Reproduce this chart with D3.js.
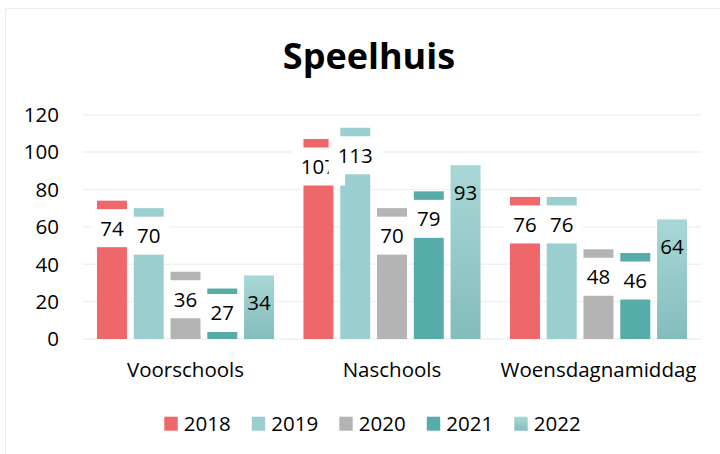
<!DOCTYPE html>
<html>
<head>
<meta charset="utf-8">
<script src="https://cdn.jsdelivr.net/npm/d3@7"></script>
<style>
	body { margin: 0; background: #fff; }
	text { font-family: "Open Sans", "Noto Sans", sans-serif; fill: #000; }
</style>
</head>
<body>
<svg id="chart" width="720" height="454"></svg>
<script>
"use strict"

//
// data
//
var categories = ["Voorschools", "Naschools", "Woensdagnamiddag"];
var series = ["2018", "2019", "2020", "2021", "2022"];
var values2018 = [74, 107, 76];
var values2019 = [70, 113, 76];
var values2020 = [36, 70, 48];
var values2021 = [27, 79, 46];
var values2022 = [34, 93, 64];
var yTicks = [0, 20, 40, 60, 80, 100, 120];
var colors = ["#ee676b", "#9bcfcf", "#b4b4b4", "#55aca9", "url(#grad2022)"];

var seriesValues = [values2018, values2019, values2020, values2021, values2022];

var svg = d3.select("#chart");

// gradient for 2022
var defs = svg.append("defs");
var grad = defs.append("linearGradient").attr("id", "grad2022")
	.attr("x1", 0).attr("y1", 0).attr("x2", 0).attr("y2", 1);
grad.append("stop").attr("offset", "0%").attr("stop-color", "#a8d8d6");
grad.append("stop").attr("offset", "100%").attr("stop-color", "#84bcbc");

// frame
svg.append("rect")
	.attr("x", 5.5).attr("y", 8.5)
	.attr("width", 800).attr("height", 800)
	.attr("fill", "#fff")
	.attr("stroke", "#e8efee")
	.attr("stroke-width", 1.2);

// title
svg.append("text")
	.attr("x", 369).attr("y", 56.4)
	.attr("dy", "0.35em")
	.attr("text-anchor", "middle")
	.style("font-size", "36px")
	.style("font-weight", "bold")
	.text("Speelhuis");

//
// scales
//
var left = 82.25, right = 701.75;
var yBottom = 339, yTop = 114.7;

var x0 = d3.scaleBand().domain(categories).range([left, right]).padding(0);
var x1 = d3.scaleBand().domain(series).range([0, x0.bandwidth()])
	.paddingInner(0.185).paddingOuter(0.4);
var y = d3.scaleLinear().domain([0, 120]).range([yBottom, yTop]);

// gridlines
svg.append("g").selectAll("line").data(yTicks).enter().append("line")
	.attr("x1", left).attr("x2", right)
	.attr("y1", function(d) { return y(d); })
	.attr("y2", function(d) { return y(d); })
	.attr("stroke", "#edf3f2")
	.attr("stroke-width", 1.5);

// y tick labels
svg.append("g").selectAll("text").data(yTicks).enter().append("text")
	.attr("x", 59)
	.attr("y", function(d) { return y(d); })
	.attr("dy", "0.36em")
	.attr("text-anchor", "end")
	.style("font-size", "20.5px")
	.text(function(d) { return d; });

// category labels
svg.append("g").selectAll("text").data(categories).enter().append("text")
	.attr("x", function(d) { return x0(d) + x0.bandwidth() / 2; })
	.attr("y", 370)
	.attr("dy", "0.36em")
	.attr("text-anchor", "middle")
	.style("font-size", "20.5px")
	.text(function(d) { return d; });

//
// bars
//
var gBars = svg.append("g");
series.forEach(function(s, si) {
	gBars.append("g").selectAll("rect").data(seriesValues[si]).enter().append("rect")
		.attr("x", function(d, i) { return x0(categories[i]) + x1(s); })
		.attr("y", function(d) { return y(d); })
		.attr("width", x1.bandwidth())
		.attr("height", function(d) { return y(0) - y(d); })
		.attr("fill", colors[si]);
});

//
// data labels (white boxes except 2022)
//
var gLabels = svg.append("g");
series.forEach(function(s, si) {
	seriesValues[si].forEach(function(v, i) {
		var cx = x0(categories[i]) + x1(s) + x1.bandwidth() / 2;
		var cy = Math.min(y(v) + 27.5, y(0) - 26);
		var g = gLabels.append("g");
		var rect = g.append("rect");
		var t = g.append("text")
			.attr("x", cx).attr("y", cy)
			.attr("dy", "0.36em")
			.attr("text-anchor", "middle")
			.style("font-size", "20.5px")
			.text(v);
		if (si < 4) {
			var tw = t.node().getComputedTextLength();
			rect.attr("x", cx - tw / 2 - 9)
				.attr("y", cy - 19)
				.attr("width", tw + 18)
				.attr("height", 38)
				.attr("fill", "#fff");
		} else {
			rect.remove();
		}
	});
});

//
// legend
//
var gLegend = svg.append("g");
series.forEach(function(s, si) {
	var lx = 164.3 + si * 87.5;
	gLegend.append("rect")
		.attr("x", lx).attr("y", 416.7)
		.attr("width", 13.4).attr("height", 14)
		.attr("fill", colors[si]);
	gLegend.append("text")
		.attr("x", lx + 19.5).attr("y", 423.5)
		.attr("dy", "0.36em")
		.style("font-size", "20.5px")
		.text(s);
});
</script>
</body>
</html>
